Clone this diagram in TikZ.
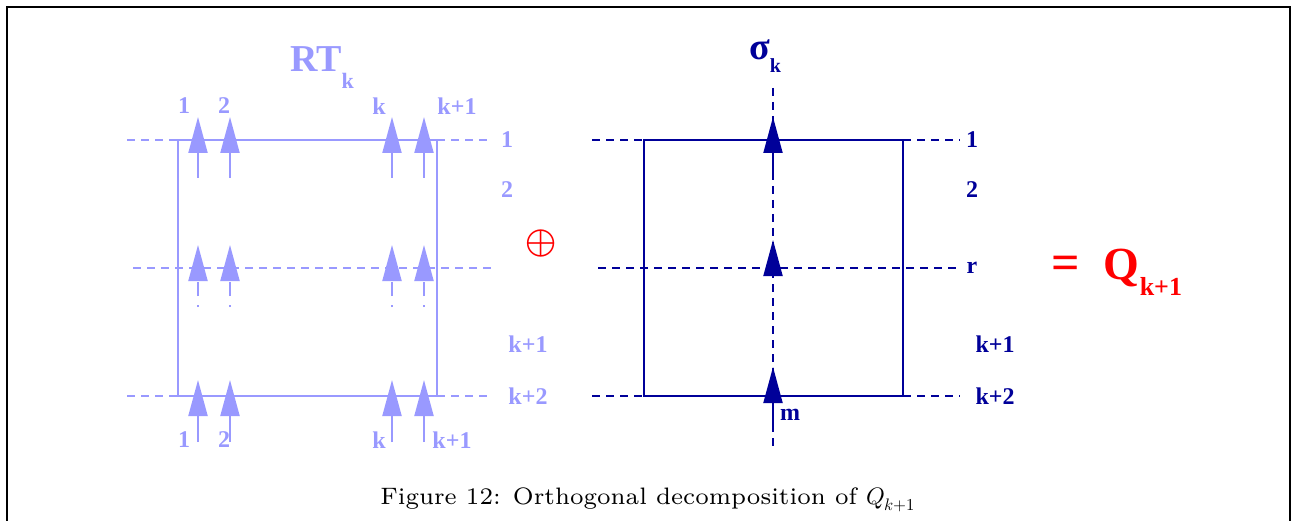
\documentclass[tikz,border=0pt]{standalone}
\usepackage{fontspec}
\usepackage{unicode-math}
\setmathfont{Latin Modern Math}
\newfontfamily\labelfont{Liberation Serif}
\newfontfamily\capfont{lmroman7-regular.otf}
\usepackage{tikz}
\usetikzlibrary{arrows.meta}
\definecolor{lightblu}{RGB}{153,153,255}
\definecolor{darkblu}{RGB}{0,0,153}

\begin{document}
\begin{tikzpicture}[x=1pt,y=-1pt,
    lab/.style={font=\labelfont\bfseries\fontsize{24}{26}\selectfont},
    grid/.style={line width=1.1pt, dash pattern=on 8pt off 6pt},
    tip/.style={-{Triangle[length=36pt,width=19pt]}, line width=2pt}]
    \useasboundingbox (0,0) rectangle (1292,521);
    \draw[line width=2pt] (7,521)--(7,7)--(1290,7)--(1290,521);
    %% left part: RT_k
    \begin{scope}[lightblu]
    \draw[line width=2pt] (178,140) rectangle (437,396);
    \draw[grid] (127,140)--(178,140);
    \draw[grid] (437,140)--(490,140);
    \draw[grid] (133,268)--(495,268);
    \draw[grid] (127,396)--(178,396);
    \draw[grid] (437,396)--(490,396);
    \draw[tip] (198,178)--(198,117);
    \draw[tip] (230,178)--(230,117);
    \draw[tip] (392,178)--(392,117);
    \draw[tip] (424,178)--(424,117);
    \draw[tip, dash pattern=on 2pt off 9pt on 14pt off 60pt] (198,307)--(198,245);
    \draw[tip, dash pattern=on 2pt off 9pt on 14pt off 60pt] (230,307)--(230,245);
    \draw[tip, dash pattern=on 2pt off 9pt on 14pt off 60pt] (392,307)--(392,245);
    \draw[tip, dash pattern=on 2pt off 9pt on 14pt off 60pt] (424,307)--(424,245);
    \draw[tip] (198,442)--(198,380);
    \draw[tip] (230,442)--(230,380);
    \draw[tip] (392,442)--(392,380);
    \draw[tip] (424,442)--(424,380);
    \node[font=\labelfont\bfseries\fontsize{38}{40}\selectfont] (rtk) at (322,68)
        {RT\raisebox{-0.45em}{\fontsize{22}{24}\selectfont k}};
    \node[lab] (t1) at (184,106) {1};
    \node[lab] (t2) at (224,106) {2};
    \node[lab] (tk) at (379,106) {k};
    \node[lab] (tk1) at (457,106) {k+1};
    \node[lab] (b1) at (184,440) {1};
    \node[lab] (b2) at (224,440) {2};
    \node[lab] (bk) at (379,440) {k};
    \node[lab] (bk1) at (452,440) {k+1};
    \node[lab] (r1) at (507,140) {1};
    \node[lab] (r2) at (507,190) {2};
    \node[lab] (rk1) at (528,344) {k+1};
    \node[lab] (rk2) at (528,396) {k+2};
    \end{scope}
    %% plus sign
    \node[red, font=\fontsize{40}{40}\selectfont] (plus) at (541,244) {$\oplus$};
    %% right part: sigma_k
    \begin{scope}[darkblu]
    \draw[line width=2pt] (644,140) rectangle (903,396);
    \draw[grid] (592,140)--(644,140);
    \draw[grid] (903,140)--(960,140);
    \draw[grid] (598,268)--(960,268);
    \draw[grid] (592,396)--(644,396);
    \draw[grid] (903,396)--(960,396);
    \draw[grid] (773,88)--(773,448);
    \draw[tip] (773,180)--(773,117);
    \draw[tip] (773,276)--(773,240);
    \draw[tip] (773,430)--(773,367);
    \node[font=\labelfont\bfseries\fontsize{38}{40}\selectfont] (sig) at (765,56)
        {σ\raisebox{-0.35em}{\fontsize{20}{22}\selectfont k}};
    \node[lab] (s1) at (972,140) {1};
    \node[lab] (s2) at (972,190) {2};
    \node[lab] (sr) at (972,268) {r};
    \node[lab] (sk1) at (995,344) {k+1};
    \node[lab] (sk2) at (995,396) {k+2};
    \node[lab] (m) at (790,415) {m};
    \end{scope}
    %% result
    \node[red, font=\labelfont\bfseries\fontsize{50}{50}\selectfont] (eq) at (1066,268) {=};
    \node[red, font=\labelfont\bfseries\fontsize{46}{48}\selectfont] (q) at (1143,272)
        {Q\raisebox{-0.35em}{\fontsize{26}{28}\selectfont k+1}};
    \node[font=\capfont\fontsize{23.8}{28}\selectfont] (cap) at (648,500)
        {Figure 12: Orthogonal decomposition of $Q_{k+1}$};
\end{tikzpicture}
\end{document}
